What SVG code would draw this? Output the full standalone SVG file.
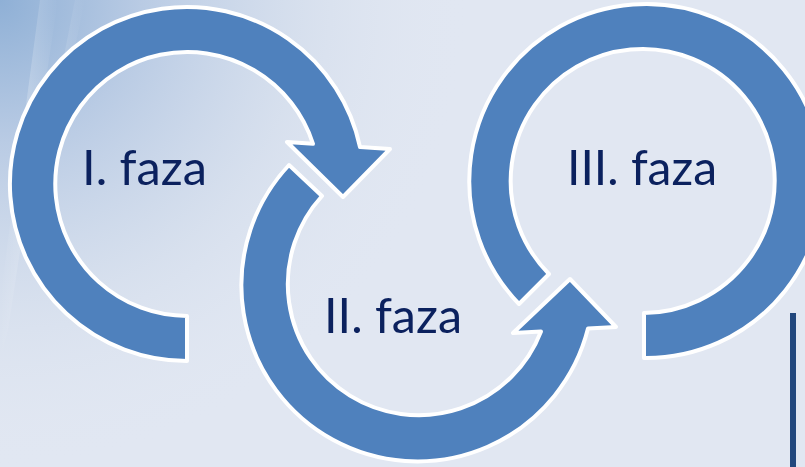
<svg xmlns="http://www.w3.org/2000/svg" width="805" height="467" viewBox="0 0 805 467">
  <defs>
    <radialGradient id="bgGlow" cx="0" cy="0" r="470" gradientUnits="userSpaceOnUse">
      <stop offset="0" stop-color="#8fb0d6"/>
      <stop offset="0.3" stop-color="#b9cbe4"/>
      <stop offset="0.65" stop-color="#d3ddec" stop-opacity="0.7"/>
      <stop offset="1" stop-color="#e1e7f2" stop-opacity="0"/>
    </radialGradient>
    <linearGradient id="streak" x1="0" y1="0" x2="1" y2="0">
      <stop offset="0" stop-color="#ffffff" stop-opacity="0"/>
      <stop offset="0.5" stop-color="#ffffff" stop-opacity="0.35"/>
      <stop offset="1" stop-color="#ffffff" stop-opacity="0"/>
    </linearGradient>
  </defs>
  <style>
    .arrow { fill: #4f81bd; stroke: #ffffff; stroke-width: 4; stroke-linejoin: round; }
    .label { font-family: Lato, "Open Sans", "Liberation Sans", sans-serif; font-size: 49px; fill: #0b215e; }
  </style>

  <!-- background -->
  <rect x="0" y="0" width="805" height="467" fill="#e1e7f2"/>
  <rect x="0" y="0" width="805" height="467" fill="url(#bgGlow)"/>
  <path d="M 40,0 L 58,0 L 8,330 L 0,360 L 0,300 Z" fill="url(#streak)" opacity="0.6"/>
  <path d="M 75,0 L 85,0 L 30,260 L 22,270 Z" fill="url(#streak)" opacity="0.5"/>

  <!-- right accent bar -->
  <rect x="790" y="313" width="6" height="154" fill="#21477d"/>

  <g id="faza1">
    <path class="arrow" d="M 187,361 A 177 177 0 1 1 360,147 L 390,149 L 343,197 L 287,142 L 313,143.8 A 132 132 0 1 0 187,316 Z"/>
    <text class="label" x="82" y="185" textLength="125" lengthAdjust="spacingAndGlyphs">I. faza</text>
  </g>

  <g id="faza2">
    <path class="arrow" d="M 289,165 A 176 176 0 1 0 588,328.6 L 616,327 L 570,279 L 513,333 L 541,331.5 A 131 131 0 1 1 322,196 Z"/>
    <text class="label" x="324" y="333" textLength="138" lengthAdjust="spacingAndGlyphs">II. faza</text>
  </g>

  <g id="faza3">
    <path class="arrow" d="M 644,358 A 177 177 0 1 0 519,304 L 549,274 A 132 132 0 1 1 644,313 Z"/>
    <text class="label" x="567" y="185" textLength="150" lengthAdjust="spacingAndGlyphs">III. faza</text>
  </g>

  <g id="connectors"></g>
</svg>
